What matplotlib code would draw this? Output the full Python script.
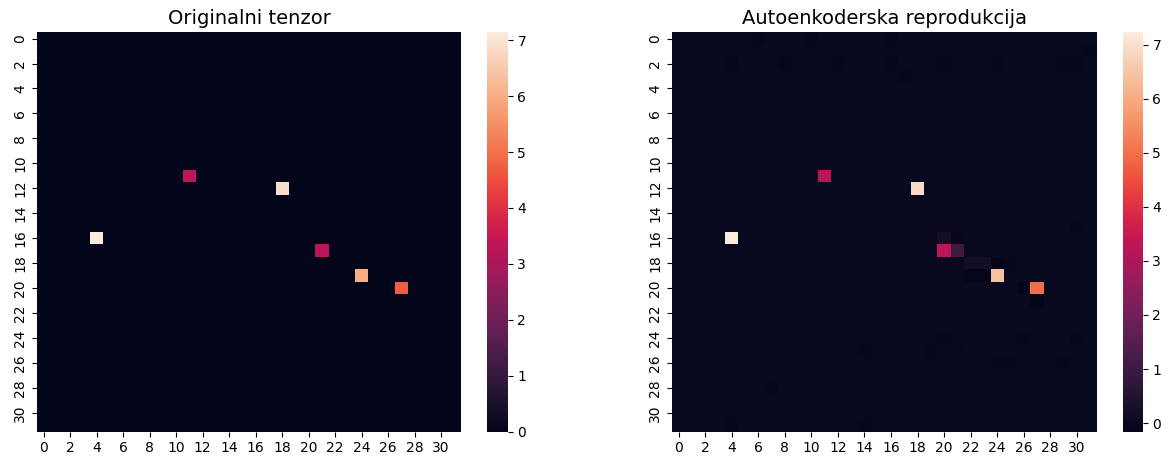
import numpy as np
import matplotlib
matplotlib.use("Agg")
import matplotlib.pyplot as plt
import seaborn as sns

N = 32
titles = ["Originalni tenzor", "Autoenkoderska reprodukcija"]

# Original tensor: nonzero cells (row, col, value)
orig_rows = [11, 12, 16, 17, 19, 20]
orig_cols = [11, 18, 4, 21, 24, 27]
orig_vals = [3.3, 6.9, 7.14, 3.3, 6.0, 4.7]

# Autoencoder reproduction: main cells
rec_rows = [11, 12, 16, 17, 17, 19, 20]
rec_cols = [11, 18, 4, 20, 21, 24, 27]
rec_vals = [3.3, 6.9, 7.23, 3.3, 1.0, 6.4, 5.0]

# Autoencoder reproduction: faint residual cells
faint_rows = [0, 0, 0, 1, 2, 2, 2, 2, 2, 2, 2, 2, 3, 15, 16, 16, 18, 18, 18, 18,
              19, 19, 20, 21, 24, 24, 24, 25, 25, 25, 26, 26, 26, 28, 28, 31, 31, 31]
faint_cols = [6, 10, 16, 31, 4, 8, 12, 16, 20, 24, 29, 30, 17, 30, 20, 21, 22, 23, 24, 25,
              22, 23, 26, 27, 20, 26, 30, 14, 19, 21, 24, 25, 29, 7, 20, 4, 12, 14]
faint_vals = [-0.05, -0.05, -0.05, -0.05, -0.06, -0.05, -0.06, -0.06, -0.06, -0.05, -0.05, -0.05,
              -0.06, -0.07, 0.25, -0.05, 0.2, 0.2, -0.12, -0.07,
              -0.08, -0.08, -0.15, -0.16, -0.05, -0.05, -0.05, -0.05, -0.05, -0.04, -0.05, -0.05,
              -0.05, -0.05, -0.04, -0.05, -0.04, -0.05]
rec_background = 0.0

orig = np.zeros((N, N))
for r, c, v in zip(orig_rows, orig_cols, orig_vals):
    orig[r, c] = v

rec = np.full((N, N), rec_background)
for r, c, v in zip(faint_rows, faint_cols, faint_vals):
    rec[r, c] = v
for r, c, v in zip(rec_rows, rec_cols, rec_vals):
    rec[r, c] = v

W, H = 1170, 459
fig = plt.figure(figsize=(W / 100, H / 100), dpi=100)

def ax_at(x0, y0, x1, y1):
    return fig.add_axes([x0 / W, 1 - y1 / H, (x1 - x0) / W, (y1 - y0) / H])

ax1 = ax_at(37, 32.3, 461, 431.7)
cax1 = ax_at(487.3, 32.3, 507.7, 431.7)
ax2 = ax_at(672, 32.3, 1096.7, 431.7)
cax2 = ax_at(1123.3, 32.3, 1142.7, 431.7)

for ax, cax, data, title in [(ax1, cax1, orig, titles[0]), (ax2, cax2, rec, titles[1])]:
    sns.heatmap(data, ax=ax, cbar_ax=cax, cmap="rocket", square=False)
    ax.set_title(title, fontsize=14)
    ax.set_xticks(np.arange(0, N, 2) + 0.5)
    ax.set_xticklabels([str(i) for i in range(0, N, 2)], rotation=0, fontsize=10)
    ax.set_yticks(np.arange(0, N, 2) + 0.5)
    ax.set_yticklabels([str(i) for i in range(0, N, 2)], rotation=90, fontsize=10, va="center")
    cax.tick_params(labelsize=10)
    for sp in cax.spines.values():
        sp.set_visible(False)

fig.savefig("out.png", dpi=100)
